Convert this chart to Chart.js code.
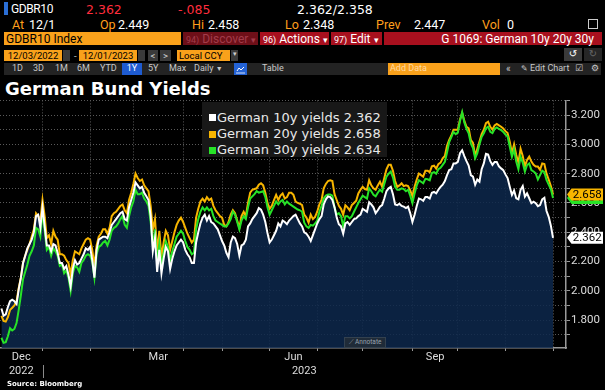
<!DOCTYPE html>
<html>
<head>
<meta charset="utf-8">
<script src="https://cdn.jsdelivr.net/npm/chart.js@4.4.0/dist/chart.umd.min.js"></script>
<style>
  html, body { margin: 0; padding: 0; background: #000; }
  body { width: 605px; height: 390px; position: relative; overflow: hidden; color: #fff; font-family: Roboto, "Liberation Sans", sans-serif; }
  .a { position: absolute; white-space: nowrap; line-height: 1; }
  .r1 { font: 12.5px "DejaVu Sans"; top: 2px; }
  .r2 { font: 12.5px Roboto; top: 16.8px; }
  .lab { color: #ff9f1c; }
  .red { color: #ff2d3c; }
  .bx { position: absolute; height: 13px; top: 32px; line-height: 13px; font: 12px Roboto; white-space: nowrap; box-sizing: border-box; }
  .bx small { font-size: 9px; }
  .r4 { position: absolute; top: 50px; height: 11px; line-height: 11px; font: 9.5px Roboto; white-space: nowrap; box-sizing: border-box; }
  .org { background: #f9a11b; color: #000; }
  .gry { background: #3a3a3a; color: #d0d0d0; text-align: center; }
  .r5 { position: absolute; top: 63px; height: 12px; line-height: 12px; font: 9px Roboto; color: #c8c8c8; white-space: nowrap; }
  #legend { position: absolute; left: 202px; top: 102px; width: 185px; height: 55px; background: #181818; }
  .li { position: absolute; left: 15px; font: 13px "DejaVu Sans"; color: #e8e8e8; line-height: 1; white-space: nowrap; }
  .li i { position: absolute; left: -8px; top: 3.8px; width: 7px; height: 7px; }
</style>
</head>
<body>
<!-- quote line -->
<div class="a" style="left:4px;top:2px;width:4px;height:13px;background:#2b6fd6"></div>
<div class="a" style="left:11px;top:2px;font:12px Roboto;letter-spacing:-0.4px">GDBR10</div>
<div class="a r1 red" style="left:86px">2.362</div>
<div class="a r1 red" style="left:178px">-.085</div>
<div class="a r1" style="left:297px">2.362/2.358</div>

<div class="a r2 lab" style="left:12px">At</div><div class="a r2" style="left:29px">12/1</div>
<div class="a r2 lab" style="left:100px">Op</div><div class="a r2" style="left:118px">2.449</div>
<div class="a r2 lab" style="left:192px">Hi</div><div class="a r2" style="left:208px">2.458</div>
<div class="a r2 lab" style="left:285px">Lo</div><div class="a r2" style="left:303px">2.348</div>
<div class="a r2 lab" style="left:376px">Prev</div><div class="a r2" style="left:414px">2.447</div>
<div class="a r2 lab" style="left:482px">Vol</div><div class="a r2" style="left:507px">0</div>
<div class="a" style="left:588px;top:19px;width:8px;height:8px;border:1px solid #ccc"></div>

<!-- command bar -->
<div class="bx org" style="left:4px;width:177px;padding-left:2px">GDBR10 Index</div>
<div class="bx" style="left:183px;width:75px;background:#6e0f18;color:#a23c4a;padding-left:3px"><small>94)</small> Discover <small>▾</small></div>
<div class="bx" style="left:260px;width:69px;background:#a8101e;padding-left:3px"><small>96)</small> Actions <small>▾</small></div>
<div class="bx" style="left:331px;width:51px;background:#a8101e;padding-left:3px"><small>97)</small> Edit <small>▾</small></div>
<div class="bx" style="left:384px;width:218px;background:#a8101e;text-align:right;padding-right:8px">G 1069: German 10y 20y 30y</div>

<!-- date row -->
<div class="r4 org" style="left:4px;width:58px;text-align:center">12/03/2022</div>
<div class="r4 gry" style="left:63px;width:7px"></div>
<div class="r4" style="left:74px;color:#ccc">-</div>
<div class="r4 org" style="left:79px;width:58px;text-align:center">12/01/2023</div>
<div class="r4 gry" style="left:138px;width:7px"></div>
<div class="r4 gry" style="left:148px;width:10px">&lt;</div>
<div class="r4 gry" style="left:160px;width:11px">&gt;</div>
<div class="r4 org" style="left:177px;width:53px;padding-left:2px">Local CCY</div>
<div class="r4 gry" style="left:231px;width:7px;font-size:7px">▾</div>
<div class="r4 gry" style="left:564px;top:48px;height:13px;line-height:13px;width:18px;font:10px 'DejaVu Sans';color:#fff">↺</div>
<div class="r4 gry" style="left:584px;top:48px;height:13px;line-height:13px;width:18px;font:10px 'DejaVu Sans';background:#262626;color:#666">↻</div>

<!-- range row -->
<div class="a" style="left:4px;top:63px;width:597px;height:12px;background:#232323"></div>
<div class="r5" style="left:12px">1D</div>
<div class="r5" style="left:33px">3D</div>
<div class="r5" style="left:55px">1M</div>
<div class="r5" style="left:77px">6M</div>
<div class="r5" style="left:100px">YTD</div>
<div class="r5" style="left:122px;width:20px;text-align:center;background:#1e5bd0;color:#fff">1Y</div>
<div class="r5" style="left:148px">5Y</div>
<div class="r5" style="left:169px">Max</div>
<div class="r5" style="left:194px">Daily <span style="font-size:7px">▼</span></div>
<div class="r5" style="left:234px;width:13px;background:#2463d6">
  <svg width="13" height="12"><polyline points="3,8 5,5 7,7 10,4" fill="none" stroke="#fff" stroke-width="1"/><line x1="2" y1="10" x2="11" y2="10" stroke="#fff" stroke-width="0.8"/></svg>
</div>
<div class="r5" style="left:262px">Table</div>
<div class="r5" style="left:388px;width:112px;background:#f9a11b;color:#ffd9a3;padding-left:2px;box-sizing:border-box">Add Data</div>
<div class="r5" style="left:506px;font-size:10px">«</div>
<div class="r5" style="left:521px"><span style="font-family:'DejaVu Sans';font-size:8px">✎</span> Edit Chart</div>
<div class="r5" style="left:575px;font-family:'DejaVu Sans';font-size:9px">☑</div>
<div class="r5" style="left:591px;font-family:'DejaVu Sans';font-size:9px">⚙</div>

<div class="a" style="left:5px;top:78px;font:bold 18px 'DejaVu Sans';color:#fff">German Bund Yields</div>

<div style="position:absolute;left:0;top:95px;width:605px;height:295px">
  <canvas id="chart" width="605" height="295"></canvas>
</div>

<div id="legend"></div>

<div class="a" style="left:344px;top:337px;width:42px;height:11px;box-sizing:border-box;background:#1f2b38;border:1px solid #33414f;font:6.5px Roboto;color:#9aa4ae;line-height:9px;text-align:center">⟋ Annotate</div>

<div class="a" style="left:7px;top:379.8px;font:bold 7px 'DejaVu Sans';color:#fff">Source: Bloomberg</div>

<script>
const dates = [
  '2022-12-05','2022-12-06','2022-12-07','2022-12-08','2022-12-09','2022-12-12','2022-12-13','2022-12-14','2022-12-15','2022-12-16',
  '2022-12-19','2022-12-20','2022-12-21','2022-12-22','2022-12-23','2022-12-27','2022-12-28','2022-12-29','2022-12-30',
  '2023-01-02','2023-01-03','2023-01-04','2023-01-05','2023-01-06','2023-01-09','2023-01-10','2023-01-11','2023-01-12','2023-01-13',
  '2023-01-16','2023-01-17','2023-01-18','2023-01-19','2023-01-20','2023-01-23','2023-01-24','2023-01-25','2023-01-26','2023-01-27',
  '2023-01-30','2023-01-31','2023-02-01','2023-02-02','2023-02-03','2023-02-06','2023-02-07','2023-02-08','2023-02-09','2023-02-10',
  '2023-02-13','2023-02-14','2023-02-15','2023-02-16','2023-02-17','2023-02-20','2023-02-21','2023-02-22','2023-02-23','2023-02-24',
  '2023-02-27','2023-02-28','2023-03-01','2023-03-02','2023-03-03','2023-03-06','2023-03-07','2023-03-08','2023-03-09','2023-03-10',
  '2023-03-13','2023-03-14','2023-03-15','2023-03-16','2023-03-17','2023-03-20','2023-03-21','2023-03-22','2023-03-23','2023-03-24',
  '2023-03-27','2023-03-28','2023-03-29','2023-03-30','2023-03-31','2023-04-03','2023-04-04','2023-04-05','2023-04-06',
  '2023-04-11','2023-04-12','2023-04-13','2023-04-14','2023-04-17','2023-04-18','2023-04-19','2023-04-20','2023-04-21',
  '2023-04-24','2023-04-25','2023-04-26','2023-04-27','2023-04-28','2023-05-02','2023-05-03','2023-05-04','2023-05-05',
  '2023-05-08','2023-05-09','2023-05-10','2023-05-11','2023-05-12','2023-05-15','2023-05-16','2023-05-17','2023-05-18','2023-05-19',
  '2023-05-22','2023-05-23','2023-05-24','2023-05-25','2023-05-26','2023-05-29','2023-05-30','2023-05-31','2023-06-01','2023-06-02',
  '2023-06-05','2023-06-06','2023-06-07','2023-06-08','2023-06-09','2023-06-12','2023-06-13','2023-06-14','2023-06-15','2023-06-16',
  '2023-06-19','2023-06-20','2023-06-21','2023-06-22','2023-06-23','2023-06-26','2023-06-27','2023-06-28','2023-06-29','2023-06-30',
  '2023-07-03','2023-07-04','2023-07-05','2023-07-06','2023-07-07','2023-07-10','2023-07-11','2023-07-12','2023-07-13','2023-07-14',
  '2023-07-17','2023-07-18','2023-07-19','2023-07-20','2023-07-21','2023-07-24','2023-07-25','2023-07-26','2023-07-27','2023-07-28',
  '2023-07-31','2023-08-01','2023-08-02','2023-08-03','2023-08-04','2023-08-07','2023-08-08','2023-08-09','2023-08-10','2023-08-11',
  '2023-08-14','2023-08-15','2023-08-16','2023-08-17','2023-08-18','2023-08-21','2023-08-22','2023-08-23','2023-08-24','2023-08-25',
  '2023-08-28','2023-08-29','2023-08-30','2023-08-31','2023-09-01','2023-09-04','2023-09-05','2023-09-06','2023-09-07','2023-09-08',
  '2023-09-11','2023-09-12','2023-09-13','2023-09-14','2023-09-15','2023-09-18','2023-09-19','2023-09-20','2023-09-21','2023-09-22',
  '2023-09-25','2023-09-26','2023-09-27','2023-09-28','2023-09-29','2023-10-02','2023-10-03','2023-10-04','2023-10-05','2023-10-06',
  '2023-10-09','2023-10-10','2023-10-11','2023-10-12','2023-10-13','2023-10-16','2023-10-17','2023-10-18','2023-10-19','2023-10-20',
  '2023-10-23','2023-10-24','2023-10-25','2023-10-26','2023-10-27','2023-10-30','2023-10-31','2023-11-01','2023-11-02','2023-11-03',
  '2023-11-06','2023-11-07','2023-11-08','2023-11-09','2023-11-10','2023-11-13','2023-11-14','2023-11-15','2023-11-16','2023-11-17',
  '2023-11-20','2023-11-21','2023-11-22','2023-11-23','2023-11-24','2023-11-27','2023-11-28','2023-11-29','2023-11-30','2023-12-01'
];

const yld10 = [
  1.88,1.83,1.84,1.89,1.93,1.94,1.93,1.91,2.01,2.09,
  2.19,2.24,2.29,2.32,2.35,2.40,2.51,2.52,2.43,
  2.57,2.44,2.31,2.31,2.27,2.32,2.31,2.26,2.19,2.19,
  2.15,2.17,2.11,2.03,2.15,2.21,2.18,2.19,2.22,2.25,
  2.29,2.28,2.30,2.21,2.09,2.28,2.35,2.36,2.37,2.37,
  2.36,2.40,2.45,2.47,2.49,2.51,2.53,2.54,2.49,2.48,
  2.57,2.62,2.67,2.74,2.72,2.70,2.71,2.67,2.645,2.62,
  2.51,2.27,2.36,2.13,2.28,2.12,2.22,2.30,2.27,2.15,
  2.22,2.27,2.31,2.33,2.35,2.33,2.28,2.25,2.23,
  2.19,2.19,2.33,2.40,2.46,2.50,2.52,2.48,2.51,
  2.47,2.46,2.44,2.42,2.38,2.34,2.31,2.26,2.23,
  2.33,2.37,2.36,2.32,2.24,2.31,2.32,2.35,2.44,2.46,
  2.49,2.51,2.53,2.565,2.555,2.52,2.47,2.395,2.33,2.35,
  2.38,2.41,2.46,2.44,2.48,2.47,2.455,2.48,2.495,2.51,
  2.52,2.49,2.46,2.44,2.40,2.39,2.37,2.34,2.38,2.42,
  2.46,2.49,2.51,2.59,2.625,2.645,2.64,2.62,2.57,2.50,
  2.455,2.44,2.39,2.46,2.47,2.45,2.47,2.49,2.495,2.51,
  2.52,2.56,2.55,2.54,2.605,2.59,2.57,2.53,2.55,2.575,
  2.585,2.63,2.68,2.70,2.71,2.66,2.59,2.585,2.595,2.58,
  2.575,2.565,2.575,2.53,2.47,2.52,2.58,2.63,2.625,2.615,
  2.64,2.64,2.63,2.67,2.675,2.665,2.69,2.71,2.725,2.75,
  2.79,2.825,2.83,2.87,2.87,2.88,2.94,2.96,2.92,2.885,
  2.855,2.79,2.78,2.725,2.76,2.745,2.83,2.87,2.935,2.93,
  2.885,2.86,2.88,2.88,2.85,2.836,2.824,2.795,2.77,2.711,
  2.655,2.685,2.632,2.625,2.69,2.715,2.643,2.666,2.632,2.598,
  2.609,2.598,2.578,2.586,2.625,2.635,2.545,2.505,2.445,2.362
];

const yld20 = [
  1.83,1.795,1.79,1.82,1.87,1.885,1.90,1.93,2.02,2.09,
  2.19,2.24,2.28,2.32,2.37,2.42,2.53,2.51,2.48,
  2.62,2.51,2.36,2.38,2.32,2.41,2.37,2.35,2.25,2.25,
  2.24,2.21,2.19,2.11,2.21,2.27,2.26,2.25,2.29,2.32,
  2.35,2.36,2.35,2.28,2.17,2.31,2.37,2.39,2.42,2.42,
  2.39,2.43,2.51,2.53,2.54,2.56,2.58,2.59,2.55,2.53,
  2.62,2.67,2.73,2.80,2.77,2.75,2.76,2.72,2.70,2.68,
  2.58,2.42,2.49,2.27,2.41,2.23,2.33,2.41,2.38,2.28,
  2.34,2.40,2.45,2.48,2.50,2.47,2.43,2.39,2.36,
  2.33,2.35,2.50,2.56,2.61,2.63,2.61,2.64,2.62,
  2.63,2.58,2.55,2.53,2.51,2.50,2.45,2.44,2.47,
  2.52,2.55,2.53,2.48,2.43,2.51,2.54,2.51,2.60,2.67,
  2.69,2.695,2.70,2.725,2.735,2.72,2.67,2.60,2.56,2.58,
  2.62,2.655,2.62,2.65,2.665,2.63,2.64,2.67,2.67,2.655,
  2.61,2.60,2.595,2.585,2.52,2.50,2.465,2.52,2.49,2.505,
  2.54,2.59,2.62,2.70,2.73,2.75,2.755,2.75,2.66,2.62,
  2.58,2.56,2.52,2.585,2.57,2.55,2.585,2.60,2.615,2.665,
  2.69,2.71,2.695,2.69,2.755,2.72,2.70,2.69,2.72,2.745,
  2.71,2.77,2.83,2.86,2.86,2.82,2.75,2.71,2.72,2.734,
  2.715,2.72,2.715,2.685,2.645,2.71,2.76,2.80,2.79,2.78,
  2.82,2.82,2.81,2.85,2.855,2.835,2.865,2.875,2.905,2.92,
  2.99,3.03,3.06,3.10,3.10,3.10,3.17,3.215,3.16,3.12,
  3.11,3.03,3.01,2.92,2.97,3.02,3.07,3.10,3.145,3.155,
  3.12,3.10,3.13,3.14,3.13,3.12,3.108,3.09,3.077,3.018,
  2.94,3.00,2.927,2.875,2.97,2.92,2.85,2.893,2.916,2.882,
  2.86,2.848,2.848,2.826,2.87,2.865,2.80,2.76,2.715,2.658
];

const yld30 = [
  1.68,1.645,1.65,1.69,1.745,1.73,1.74,1.78,1.87,1.97,
  2.08,2.13,2.18,2.24,2.27,2.31,2.43,2.42,2.37,
  2.54,2.41,2.28,2.30,2.24,2.29,2.27,2.24,2.17,2.18,
  2.12,2.14,2.09,2.00,2.12,2.17,2.16,2.13,2.19,2.21,
  2.24,2.25,2.24,2.20,2.09,2.25,2.30,2.31,2.33,2.34,
  2.31,2.35,2.41,2.43,2.44,2.46,2.49,2.51,2.45,2.43,
  2.51,2.57,2.61,2.69,2.66,2.66,2.67,2.63,2.61,2.58,
  2.47,2.31,2.42,2.19,2.32,2.17,2.26,2.34,2.30,2.21,
  2.27,2.32,2.37,2.39,2.41,2.39,2.34,2.30,2.28,
  2.25,2.26,2.42,2.49,2.54,2.57,2.55,2.57,2.55,
  2.56,2.51,2.48,2.47,2.46,2.45,2.44,2.44,2.46,
  2.49,2.54,2.52,2.47,2.42,2.48,2.51,2.49,2.57,2.63,
  2.645,2.66,2.68,2.67,2.675,2.68,2.64,2.57,2.52,2.55,
  2.58,2.61,2.59,2.61,2.62,2.59,2.61,2.595,2.585,2.575,
  2.565,2.555,2.55,2.54,2.465,2.44,2.43,2.45,2.445,2.46,
  2.48,2.54,2.58,2.63,2.65,2.657,2.657,2.65,2.57,2.52,
  2.53,2.51,2.44,2.51,2.51,2.495,2.51,2.54,2.57,2.60,
  2.625,2.65,2.64,2.63,2.70,2.68,2.655,2.645,2.67,2.69,
  2.677,2.73,2.78,2.80,2.814,2.775,2.71,2.69,2.69,2.70,
  2.695,2.68,2.69,2.65,2.60,2.665,2.72,2.755,2.745,2.735,
  2.765,2.762,2.755,2.805,2.81,2.80,2.83,2.84,2.86,2.88,
  2.945,3.015,3.05,3.085,3.07,3.08,3.16,3.22,3.15,3.105,
  3.075,3.007,2.975,2.905,2.94,3.00,3.05,3.075,3.11,3.12,
  3.086,3.077,3.105,3.115,3.105,3.098,3.085,3.067,3.054,2.984,
  2.916,2.965,2.882,2.83,2.915,2.875,2.814,2.859,2.87,2.825,
  2.815,2.802,2.76,2.79,2.82,2.81,2.757,2.725,2.695,2.634
];

const seriesNames = ['German 10y yields', 'German 20y yields', 'German 30y yields'];
const seriesColors = ['#ffffff', '#f7b500', '#27e327'];

// first trading day of each month -> vertical grid lines
const monthStarts = ['2023-01-02','2023-02-01','2023-03-01','2023-04-03','2023-05-02','2023-06-01',
                     '2023-07-03','2023-08-01','2023-09-01','2023-10-02','2023-11-01','2023-12-01'];
const monthNames = ['Dec', 'Mar', 'Jun', 'Sep'];
const monthSpans = [[null, '2023-01-02'], ['2023-03-01', '2023-04-03'], ['2023-06-01', '2023-07-03'], ['2023-09-01', '2023-10-02']];
const yearNames = ['2022', '2023'];
const yearSpans = [[null, '2023-01-02'], ['2023-01-02', null]];
const yTicks = [1.7,1.8,1.9,2.0,2.1,2.2,2.3,2.4,2.5,2.6,2.7,2.8,2.9,3.0,3.1,3.2,3.3];

// bund market closed days (not plotted)
const holidays = ['2022-12-26', '2023-04-07', '2023-04-10', '2023-05-01'];
const firstDay = Date.UTC(2022, 11, 5);

// trading-day index, weekends and holidays skipped like the terminal does
function tradingIndex(iso) {
  const [y, m, d] = iso.split('-').map(Number);
  const days = Math.round((Date.UTC(y, m - 1, d) - firstDay) / 864e5);
  let idx = Math.floor(days / 7) * 5 + Math.min(days % 7, 5);
  holidays.forEach(h => { if (h < iso) idx--; });
  return idx;
}

const toPoints = vals => vals.map((v, i) => ({ x: tradingIndex(dates[i]), y: v }));

// legend box
const legend = document.getElementById('legend');
[yld10, yld20, yld30].forEach((vals, i) => {
  const row = document.createElement('div');
  row.className = 'li';
  row.style.top = (8.7 + i * 16.3) + 'px';
  row.innerHTML = '<i style="background:' + seriesColors[i] + '"></i>' + seriesNames[i] + ' ' + vals[vals.length - 1].toFixed(3);
  legend.appendChild(row);
});

const axisText = {
  id: 'axisText',
  afterDraw(chart) {
    const { ctx, chartArea, scales: { x, y } } = chart;
    const px = d => (d ? x.getPixelForValue(tradingIndex(d)) : null);
    ctx.save();
    ctx.fillStyle = '#dcdcdc';
    ctx.font = '11px Roboto';
    ctx.textAlign = 'center';
    ctx.textBaseline = 'middle';
    monthNames.forEach((name, i) => {
      const a = px(monthSpans[i][0]) ?? chartArea.left;
      const b = px(monthSpans[i][1]) ?? chartArea.right;
      ctx.fillText(name, (a + b) / 2, chartArea.bottom + 9.5);
    });
    yearNames.forEach((name, i) => {
      const a = px(yearSpans[i][0]) ?? chartArea.left;
      const b = px(yearSpans[i][1]) ?? chartArea.right;
      ctx.fillText(name, (a + b) / 2, chartArea.bottom + 23.5);
    });
    const sep = Math.round(px('2023-01-02')) + 0.5;
    ctx.strokeStyle = '#8a8a8a';
    ctx.lineWidth = 1;
    ctx.beginPath();
    ctx.moveTo(sep, chartArea.bottom + 17);
    ctx.lineTo(sep, chartArea.bottom + 30);
    ctx.stroke();

    // last value tags on the right axis
    const tags = [[yld30, seriesColors[2]], [yld20, seriesColors[1]], [yld10, seriesColors[0]]];
    ctx.font = '11.5px Roboto';
    tags.forEach(([vals, col]) => {
      const v = vals[vals.length - 1];
      const yy = y.getPixelForValue(v);
      const left = chartArea.right + 1;
      ctx.fillStyle = col;
      ctx.beginPath();
      ctx.moveTo(left, yy);
      ctx.lineTo(left + 4.5, yy - 6);
      ctx.lineTo(chart.width - 2, yy - 6);
      ctx.lineTo(chart.width - 2, yy + 6);
      ctx.lineTo(left + 4.5, yy + 6);
      ctx.closePath();
      ctx.fill();
      ctx.fillStyle = '#000';
      ctx.fillText(v.toFixed(3), (left + 4.5 + chart.width - 2) / 2, yy + 0.5);
    });
    ctx.restore();
  }
};

new Chart(document.getElementById('chart'), {
  type: 'line',
  data: {
    datasets: [
      {
        label: seriesNames[0], data: toPoints(yld10), borderColor: seriesColors[0], borderWidth: 2,
        fill: 'start', backgroundColor: 'rgba(13,40,76,0.85)', order: 0
      },
      { label: seriesNames[1], data: toPoints(yld20), borderColor: seriesColors[1], borderWidth: 2, fill: false, order: 2 },
      { label: seriesNames[2], data: toPoints(yld30), borderColor: seriesColors[2], borderWidth: 2, fill: false, order: 1 }
    ]
  },
  options: {
    responsive: false,
    animation: false,
    events: [],
    layout: { padding: { top: 5.4, left: 0, right: 0, bottom: 0 } },
    elements: { point: { radius: 0 }, line: { tension: 0 } },
    plugins: {
      legend: { display: false },
      tooltip: { enabled: false },
      filler: { drawTime: 'beforeDatasetsDraw' }
    },
    scales: {
      x: {
        type: 'linear',
        min: -0.65,
        max: 261,
        afterBuildTicks: s => { s.ticks = monthStarts.map(d => ({ value: tradingIndex(d) })); },
        afterFit: s => { s.height = 42; s.paddingLeft = 0; s.paddingRight = 0; },
        ticks: { callback: () => '', autoSkip: false, maxRotation: 0 },
        grid: { color: '#5a5a5a', tickLength: 3, tickColor: '#9a9a9a' },
        border: { color: '#9a9a9a', width: 1.5, dash: [1, 2] }
      },
      y: {
        position: 'right',
        min: 1.61,
        max: 3.3,
        afterBuildTicks: s => { s.ticks = yTicks.map(v => ({ value: v })); },
        afterFit: s => { s.width = 39; s.paddingTop = 0; s.paddingBottom = 0; },
        ticks: {
          color: '#dcdcdc',
          font: { family: 'Roboto', size: 11.5 },
          padding: 1,
          autoSkip: false,
          callback: v => (Math.round(v * 10) % 2 === 0 ? v.toFixed(3) : '')
        },
        grid: { color: '#5a5a5a', tickLength: 4, tickColor: '#9a9a9a' },
        border: { color: '#9a9a9a', width: 1.5, dash: [1, 2] }
      }
    }
  },
  plugins: [axisText]
});
</script>
</body>
</html>
